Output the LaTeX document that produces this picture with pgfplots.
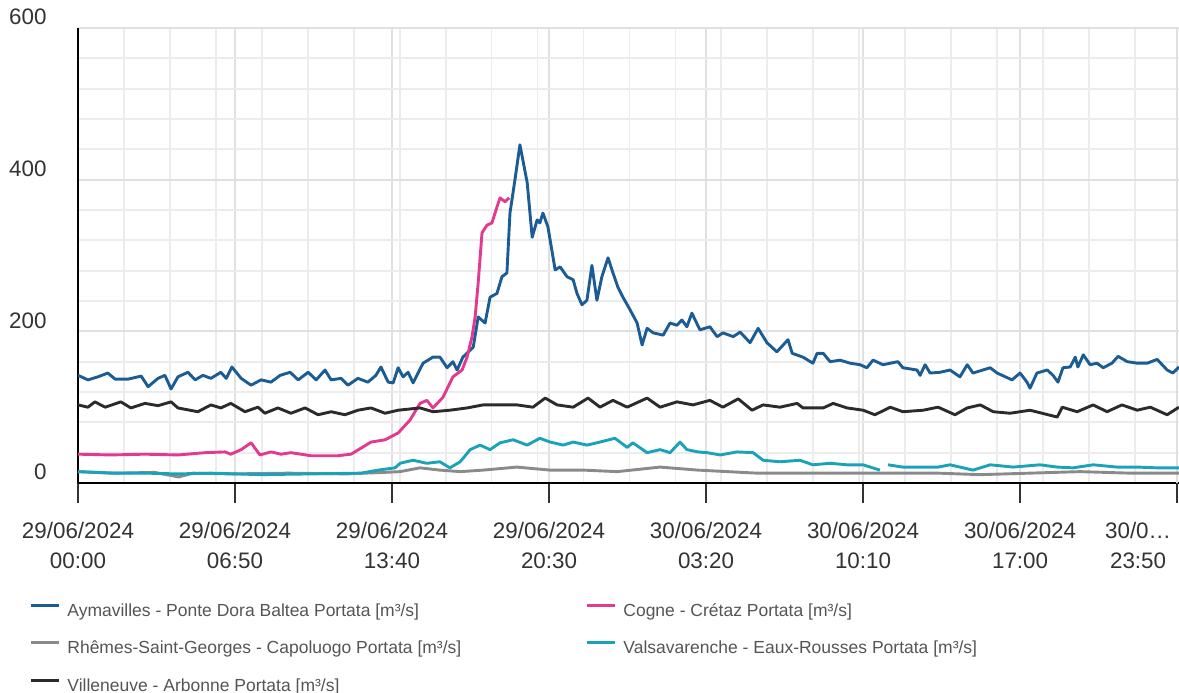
\documentclass[border=0pt]{standalone}
\usepackage{pgfplots}
\pgfplotsset{compat=1.18}
\usepackage{fontspec}
\setmainfont{Liberation Sans}
\definecolor{cAym}{HTML}{1B5C94}
\definecolor{cCog}{HTML}{E23A8E}
\definecolor{cRhe}{HTML}{8A8A8A}
\definecolor{cVal}{HTML}{1AA3B8}
\definecolor{cVil}{HTML}{2B2B2B}
\definecolor{gridmin}{HTML}{ECECEC}
\definecolor{gridmaj}{HTML}{E0E0E0}
\definecolor{ticktext}{HTML}{333333}
\definecolor{legtext}{HTML}{555555}
\begin{document}
\begin{tikzpicture}
\path[use as bounding box] (-39pt,-104.5pt) rectangle (550.5pt,241.5pt);
\begin{axis}[
  at={(0pt,0pt)}, anchor=south west,
  scale only axis, width=550.5pt, height=227.5pt,
  xmin=0, xmax=2875, ymin=0, ymax=600,
  axis x line*=bottom, axis y line*=left,
  axis line style={-, black, line width=1pt},
  xtick={0,410,820,1230,1640,2050,2460},
  xticklabels={{29/06/2024\\00:00},{29/06/2024\\06:50},{29/06/2024\\13:40},{29/06/2024\\20:30},{30/06/2024\\03:20},{30/06/2024\\10:10},{30/06/2024\\17:00}},
  extra x ticks={2870},
  extra x tick labels={{30/0…\\23:50}},
  extra x tick style={xticklabel style={xshift=-19.5pt}},
  minor xtick={120,240,...,2760},
  ytick={0,200,400,600}, yticklabels={0,200,400,600},
  minor ytick={40,80,...,560},
  grid=both,
  major grid style={gridmaj, line width=0.9pt},
  minor grid style={gridmin, line width=0.9pt},
  tick align=outside,
  major tick length=10pt, minor tick length=0pt,
  xtick style={ticktext, line width=0.8pt},
  ytick style={draw=none},
  xticklabel style={align=center, anchor=north, inner sep=0pt, yshift=-9.5pt, font=\fontsize{11.2}{15}\selectfont, text=ticktext},
  yticklabel style={anchor=east, inner sep=0pt, xshift=-5.5pt, yshift=5.5pt, font=\fontsize{11.2}{13}\selectfont, text=ticktext},
  unbounded coords=jump,
  every axis plot/.append style={line width=1.45pt, line join=round, mark=none},
  legend columns=2,
  legend cell align=left,
  legend style={at={(axis description cs:0,0)}, anchor=north west, xshift=-24.5pt, yshift=-59.5pt,
    draw=none, fill=none, inner sep=0pt, font=\fontsize{8.75}{11}\selectfont, row sep=9.75pt,
    /tikz/every odd column/.append style={column sep=3.5pt},
    /tikz/every even column/.append style={column sep=0pt},
    nodes={inner sep=0pt, text height=7pt, text depth=2pt, text=legtext}},
  legend image code/.code={\draw[#1, line width=1.5pt] (0pt,3pt) -- (14pt,3pt);},
]
\addplot[cAym] table {
0 142
26 136
52 140
78 145
97 137
131 137
165 141
183 127
209 138
227 142
243 124
261 140
287 146
306 136
326 142
347 138
373 146
387 138
402 153
426 138
452 129
478 136
504 133
528 142
554 146
575 136
601 146
622 136
645 149
661 136
687 138
705 129
731 138
757 133
778 142
791 153
810 133
823 132
836 152
849 140
862 146
875 132
901 158
927 166
945 166
964 152
979 160
990 149
1005 166
1032 179
1045 219
1063 211
1076 245
1094 250
1107 272
1120 277
1128 356
1141 400
1154 446
1173 396
1186 324
1199 347
1206 343
1214 356
1227 338
1246 281
1259 285
1277 272
1293 268
1303 250
1316 235
1329 241
1342 287
1355 241
1368 272
1384 297
1397 277
1410 258
1423 245
1442 228
1460 211
1473 182
1486 204
1502 198
1528 195
1546 211
1564 208
1577 215
1590 206
1603 224
1624 202
1650 206
1669 193
1684 198
1711 193
1729 199
1755 185
1776 204
1799 185
1825 173
1854 189
1865 171
1893 166
1919 158
1930 171
1946 171
1964 160
1990 162
2016 158
2042 156
2060 152
2076 162
2102 156
2141 160
2154 152
2191 149
2199 142
2212 156
2225 145
2251 146
2277 149
2303 140
2322 156
2337 145
2382 152
2400 145
2439 136
2460 145
2478 133
2486 125
2504 145
2531 149
2546 142
2559 133
2572 152
2591 153
2604 166
2611 153
2625 169
2643 156
2661 158
2677 152
2700 158
2716 167
2740 160
2766 158
2792 158
2818 163
2844 149
2859 145
2875 153
};
\addlegendentry{\makebox[259pt][l]{Aymavilles - Ponte Dora Baltea Portata [m³/s]}}
\addplot[cCog] table {
0 38
86 37
175 38
261 37
332 40
384 41
399 38
426 44
452 53
475 37
504 41
530 38
556 40
608 36
679 36
713 38
739 46
765 54
802 57
836 66
867 83
893 105
911 109
927 99
953 113
979 140
1003 149
1016 166
1029 193
1037 219
1045 264
1055 330
1068 340
1081 343
1094 364
1102 376
1115 371
1126 376
};
\addlegendentry{Cogne - Crétaz Portata [m³/s]}
\addplot[cRhe] table {
0 15
100 13
200 14
263 8
300 13
400 12
550 13
700 12
800 14
841 15
893 20
945 17
998 15
1058 17
1146 21
1233 17
1319 17
1408 15
1520 21
1619 17
1773 13
1946 13
2121 13
2246 13
2356 11
2486 13
2617 15
2747 13
2875 13
};
\addlegendentry{\makebox[259pt][l]{Rhêmes-Saint-Georges - Capoluogo Portata [m³/s]}}
\addplot[cVal] table {
0 15
86 13
175 13
261 12
347 13
478 11
608 12
739 13
784 17
828 20
841 26
857 28
875 30
911 26
945 28
971 20
998 28
1024 44
1050 50
1076 44
1102 53
1136 57
1173 50
1206 59
1233 54
1267 50
1293 54
1329 50
1363 54
1402 59
1434 47
1449 53
1486 40
1520 44
1546 40
1572 54
1590 44
1619 41
1643 40
1677 37
1721 41
1763 40
1789 30
1833 28
1885 30
1919 24
1964 26
2008 24
2050 24
2094 17
2100 nan
2115 24
2154 21
2207 21
2246 21
2277 24
2337 17
2382 24
2442 21
2512 24
2557 21
2598 20
2651 24
2713 21
2766 21
2818 20
2875 20
};
\addlegendentry{Valsavarenche - Eaux-Rousses Portata [m³/s]}
\addplot[cVil] table {
0 103
26 100
44 107
71 100
112 107
138 99
175 105
209 102
243 107
261 99
313 94
347 103
373 99
399 105
436 94
470 100
488 92
522 99
556 92
593 99
627 90
661 94
697 90
731 96
765 99
802 92
836 96
893 99
927 94
971 96
1016 99
1058 103
1102 103
1146 103
1188 100
1220 112
1251 103
1293 100
1332 112
1363 100
1397 109
1434 100
1486 112
1520 100
1564 107
1606 103
1650 109
1684 100
1724 111
1760 96
1789 103
1833 100
1878 105
1893 99
1946 99
1972 105
2008 99
2050 96
2081 90
2121 100
2154 94
2207 96
2246 100
2290 90
2322 99
2356 103
2390 94
2434 92
2486 96
2533 90
2557 87
2570 100
2609 94
2651 103
2687 94
2726 103
2766 96
2800 100
2844 90
2875 100
};
\addlegendentry{\makebox[259pt][l]{Villeneuve - Arbonne Portata [m³/s]}}
\end{axis}
\end{tikzpicture}
\end{document}
